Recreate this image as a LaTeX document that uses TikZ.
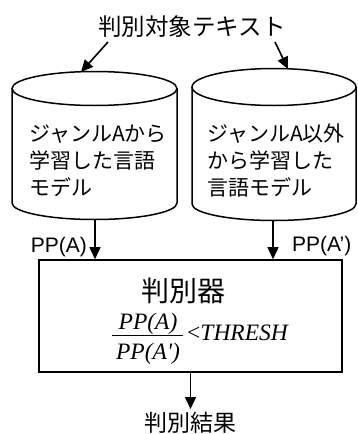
\documentclass[tikz,border=0pt]{standalone}
\usepackage{fontspec}
\usetikzlibrary{arrows.meta}
\newfontfamily\jp{Noto Sans CJK JP}
\newfontfamily\arl{Liberation Sans}
\newfontfamily\tnr{Liberation Serif}
\tikzset{
  cyl/.style={line width=1.5pt},
  arr/.style={line width=1.6pt, -{Triangle[width=11pt,length=12pt]}},
  boxst/.style={draw, line width=1.6pt, minimum width=303pt, minimum height=112pt, inner sep=0pt},
  jtext/.style={font=\jp\fontsize{21}{27}\selectfont, align=left, inner sep=0pt},
  jbig/.style={font=\jp\fontsize{23.5}{28}\selectfont, inner sep=0pt},
  lbl/.style={font=\arl\fontsize{21}{25}\selectfont, inner sep=0pt},
  mth/.style={font=\tnr\itshape\fontsize{23.5}{28}\selectfont, inner sep=0pt}
}
\begin{document}
\begin{tikzpicture}[x=1pt,y=-1pt]
\useasboundingbox (0,0) rectangle (357,434);
% title
\node[jbig] (title) at (192,26.5) {判別対象テキスト};
\coordinate (tA) at (108,42);
\coordinate (tB) at (275,42);
% left cylinder
\draw[cyl] (94.5,88.5) ellipse [x radius=82.5pt, y radius=17pt];
\draw[cyl] (12,88.5) -- (12,203) arc[start angle=180, end angle=360, x radius=82.5pt, y radius=16.5pt] -- (177,88.5);
\coordinate (cA) at (81,72);
\coordinate (cAbot) at (95,219.5);
\node[jtext, anchor=west] (textA) at (29,161) {ジャンルAから\\学習した言語\\モデル};
% right cylinder
\draw[cyl] (274,87) ellipse [x radius=82pt, y radius=18.5pt];
\draw[cyl] (192,87) -- (192,204) arc[start angle=180, end angle=360, x radius=82pt, y radius=16.5pt] -- (356,87);
\coordinate (cB) at (288,69);
\coordinate (cBbot) at (273,220.5);
\node[jtext, anchor=west] (textB) at (207,161) {ジャンルA以外\\から学習した\\言語モデル};
% title arrows
\draw[arr] (tA) -- (cA);
\draw[arr] (tB) -- (cB);
% box
\node[boxst] (box) at (190.5,316) {};
\draw[arr] (cAbot) -- (cAbot |- box.north);
\draw[arr] (cBbot) -- (cBbot |- box.north);
\node[lbl, anchor=base east] (ppA) at (87,252) {PP(A)};
\node[lbl, anchor=base west] (ppB) at (292,251) {PP(A’)};
% box content
\node[font=\jp\fontsize{28}{32}\selectfont, inner sep=0pt] (judge) at (183,290.5) {判別器};
\node[mth, anchor=base] (num) at (148,329) {PP(A)};
\node[mth, anchor=base] (den) at (148,359) {PP(A')};
\coordinate (barL) at (112,335);
\coordinate (barR) at (183,335);
\draw[line width=1pt] (barL) -- (barR);
\node[mth, anchor=base west] (rel) at (187,340) {{\upshape<}THRESH};
% output
\node[font=\jp\fontsize{23}{27}\selectfont, inner sep=0pt] (result) at (190,423) {判別結果};
\draw[arr] (box.south) -- (box.south |- 0,409);
\end{tikzpicture}
\end{document}
